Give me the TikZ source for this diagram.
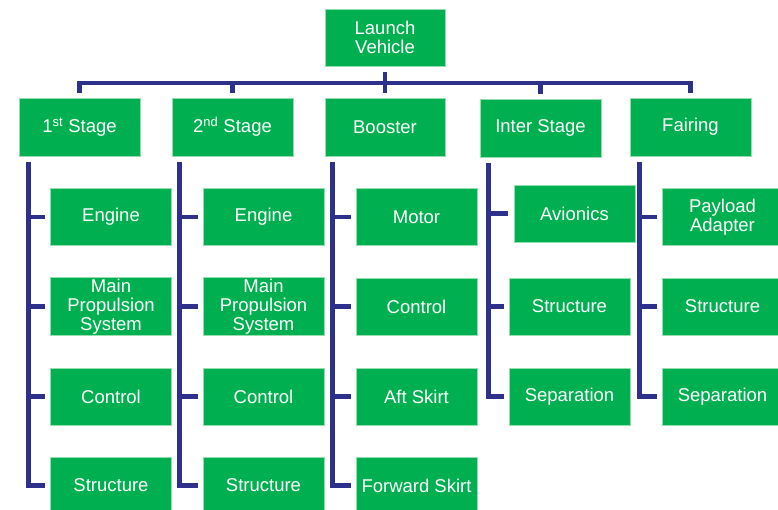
\documentclass[tikz,border=0pt]{standalone}
\usepackage{fontspec}
\setmainfont{Liberation Sans}
\definecolor{boxgreen}{RGB}{0,176,80}
\definecolor{boxedge}{RGB}{150,222,175}
\definecolor{navy}{RGB}{46,49,140}
\tikzset{
  wbs/.style={rectangle, fill=boxgreen, draw=boxedge, line width=0.8pt,
    minimum width=121pt, minimum height=57pt, inner sep=1pt,
    text=white, align=center, font=\fontsize{18.5}{19}\selectfont},
  conn/.style={draw=navy, line width=4.5pt, line join=miter}
}
\begin{document}
\begin{tikzpicture}[x=1pt,y=-1pt]
\useasboundingbox (0,0) rectangle (778,509);
% top
\node[wbs, minimum width=120pt] (LV) at (385,37.5) {Launch\\Vehicle};
% level 1
\node[wbs, minimum height=58pt] (S1) at (79.5,127) {1\textsuperscript{st} Stage};
\node[wbs, minimum height=58pt] (S2) at (232.5,127) {2\textsuperscript{nd} Stage};
\node[wbs, minimum height=58pt, minimum width=120pt] (BO) at (385,127) {Booster};
\node[wbs, minimum height=58pt] (IS) at (540.5,128) {Inter Stage};
\node[wbs, minimum height=58pt] (FA) at (690.5,127) {Fairing};
% column 1
\node[wbs] (S1a) at (111,217) {Engine};
\node[wbs] (S1b) at (111,306.5) {Main\\Propulsion\\System};
\node[wbs] (S1c) at (111,396.5) {Control};
\node[wbs] (S1d) at (111,485.5) {Structure};
% column 2
\node[wbs] (S2a) at (263.5,217) {Engine};
\node[wbs] (S2b) at (263.5,306.5) {Main\\Propulsion\\System};
\node[wbs] (S2c) at (263.5,396.5) {Control};
\node[wbs] (S2d) at (263.5,485.5) {Structure};
% column 3
\node[wbs] (BOa) at (416.5,217) {Motor};
\node[wbs] (BOb) at (416.5,306.5) {Control};
\node[wbs] (BOc) at (416.5,396.5) {Aft Skirt};
\node[wbs] (BOd) at (416.5,485.5) {Forward Skirt};
% column 4
\node[wbs] (ISa) at (574.5,213.5) {Avionics};
\node[wbs] (ISb) at (569.5,306.5) {Structure};
\node[wbs] (ISc) at (569.5,396.5) {Separation};
% column 5
\node[wbs] (FAa) at (722.5,217) {Payload\\Adapter};
\node[wbs] (FAb) at (722.5,306.5) {Structure};
\node[wbs] (FAc) at (722.5,396.5) {Separation};

% bus
\coordinate (bus) at (385,83);
\draw[conn] ([yshift=5pt]S1.north) -- (S1.north |- bus) -- (FA.north |- bus) -- ([yshift=5pt]FA.north);
\draw[conn] ([yshift=-6pt]LV.south) -- ([yshift=5pt]BO.north);
\foreach \n in {S2,IS}
  \draw[conn] (\n.north |- bus) -- ([yshift=5pt]\n.north);

% column spines
\coordinate (v1) at ([shift={(10pt,-6pt)}]S1.south west);
\coordinate (v2) at ([shift={(8pt,-6pt)}]S2.south west);
\coordinate (v3) at ([shift={(8pt,-6pt)}]BO.south west);
\coordinate (v4) at ([shift={(9pt,-6pt)}]IS.south west);
\coordinate (v5) at ([shift={(10pt,-6pt)}]FA.south west);

\draw[conn] (v1) |- ([xshift=-5pt]S1d.west);
\foreach \c in {S1a,S1b,S1c} \draw[conn] (v1 |- \c.west) -- ([xshift=-5pt]\c.west);
\draw[conn] (v2) |- ([xshift=-5pt]S2d.west);
\foreach \c in {S2a,S2b,S2c} \draw[conn] (v2 |- \c.west) -- ([xshift=-5pt]\c.west);
\draw[conn] (v3) |- ([xshift=-5pt]BOd.west);
\foreach \c in {BOa,BOb,BOc} \draw[conn] (v3 |- \c.west) -- ([xshift=-5pt]\c.west);
\draw[conn] (v4) |- ([xshift=-5pt]ISc.west);
\draw[conn] (v4 |- ISa.west) -- ([xshift=-6pt]ISa.west);
\draw[conn] (v4 |- ISb.west) -- ([xshift=-5pt]ISb.west);
\draw[conn] (v5) |- ([xshift=-5pt]FAc.west);
\foreach \c in {FAa,FAb} \draw[conn] (v5 |- \c.west) -- ([xshift=-5pt]\c.west);
\end{tikzpicture}
\end{document}
